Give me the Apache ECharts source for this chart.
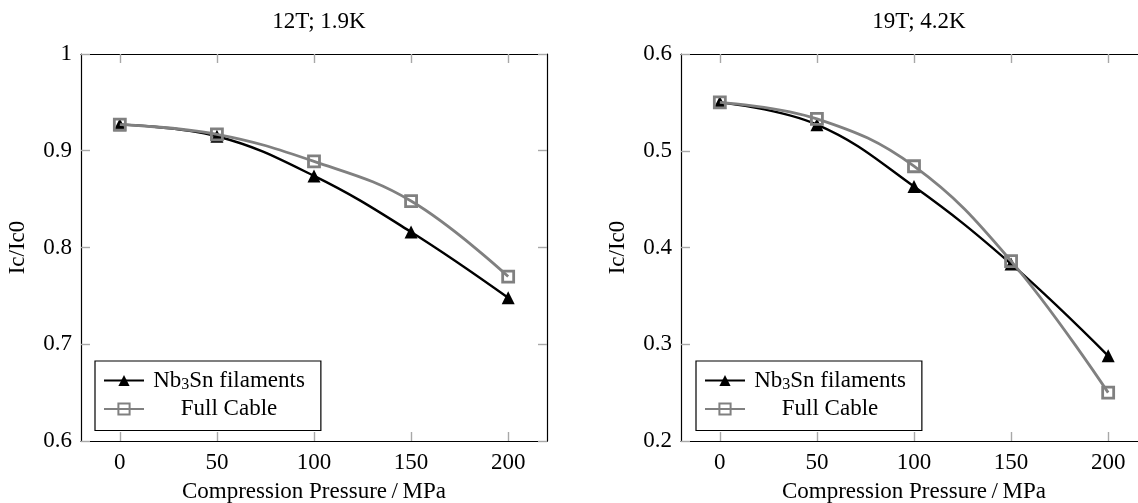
<!DOCTYPE html>
<html>
<head>
<meta charset="utf-8">
<script src="https://cdn.jsdelivr.net/npm/echarts@6/dist/echarts.min.js"></script>
<style>
  html, body { margin: 0; padding: 0; background: #fff; }
  #chart { width: 1138px; height: 503px; }
</style>
</head>
<body>
<div id="chart"></div>
<script>
// Compression pressure (MPa) at which Ic/Ic0 was measured
const pressure = [0, 50, 100, 150, 200];
const xTicks = [0, 50, 100, 150, 200];

// 12 T, 1.9 K
const filaments12T = [0.927, 0.915, 0.874, 0.816, 0.748];
const cable12T = [0.927, 0.917, 0.889, 0.848, 0.770];
const yTicks12T = [0.6, 0.7, 0.8, 0.9, 1];

// 19 T, 4.2 K
const filaments19T = [0.550, 0.527, 0.463, 0.383, 0.288];
const cable19T = [0.550, 0.533, 0.484, 0.386, 0.250];
const yTicks19T = [0.2, 0.3, 0.4, 0.5, 0.6];

const titles = ['12T; 1.9K', '19T; 4.2K'];
const nameFil = 'Nb3Sn filaments';
const nameCable = 'Full Cable';

const FONT = 'Liberation Serif';
const FS = 23;

const chart = echarts.init(document.getElementById('chart'), null, { renderer: 'canvas' });

const grids = [
  { left: 81, right: 591, top: 54, bottom: 62, outerBoundsMode: 'none', containLabel: false },
  { left: 681, right: -9, top: 54, bottom: 62, outerBoundsMode: 'none', containLabel: false }
];

const tickStyle = { show: true, inside: true, length: 9, lineStyle: { color: '#a8a8a8', width: 1.4 } };
const lineStyle = { show: true, onZero: false, lineStyle: { color: '#000', width: 1.2 } };

function zip(xs, ys) { return xs.map((x, i) => [x, ys[i]]); }

const xAxes = [], yAxes = [], series = [], titleList = [], legends = [];

[[filaments12T, cable12T, yTicks12T], [filaments19T, cable19T, yTicks19T]].forEach(([fil, cab, yt], g) => {
  const ymin = yt[0], ymax = yt[yt.length - 1];
  // bottom axis with labels
  xAxes.push({
    gridIndex: g, type: 'value', position: 'bottom', min: -20, max: 220,
    name: 'Compression Pressure\u2009/\u2009MPa', nameLocation: 'middle', nameGap: 39,
    nameTextStyle: { fontFamily: FONT, fontSize: FS, color: '#000' },
    axisLine: lineStyle,
    axisTick: Object.assign({ customValues: xTicks }, tickStyle),
    axisLabel: { customValues: xTicks, margin: 10, fontFamily: FONT, fontSize: FS, color: '#000' },
    splitLine: { show: false }
  });
  // mirrored top axis (ticks only)
  xAxes.push({
    gridIndex: g, type: 'value', position: 'top', min: -20, max: 220,
    axisLine: lineStyle,
    axisTick: Object.assign({ customValues: xTicks }, tickStyle),
    axisLabel: { show: false }, splitLine: { show: false }
  });
  yAxes.push({
    gridIndex: g, type: 'value', position: 'left', min: ymin, max: ymax,
    name: 'Ic/Ic0', nameLocation: 'middle', nameGap: 52, nameRotate: 90,
    nameTextStyle: { fontFamily: FONT, fontSize: FS, color: '#000' },
    axisLine: lineStyle,
    axisTick: Object.assign({ customValues: yt }, tickStyle),
    axisLabel: { customValues: yt, margin: 9, fontFamily: FONT, fontSize: FS, color: '#000' },
    splitLine: { show: false }
  });
  yAxes.push({
    gridIndex: g, type: 'value', position: 'right', min: ymin, max: ymax,
    axisLine: lineStyle,
    axisTick: Object.assign({ customValues: yt }, tickStyle),
    axisLabel: { show: false }, splitLine: { show: false }
  });

  series.push({
    name: nameFil, type: 'line', xAxisIndex: g * 2, yAxisIndex: g * 2,
    data: zip(pressure, fil), smooth: 0.4,
    symbol: 'triangle', symbolSize: 13,
    lineStyle: { color: '#000', width: 2.4 },
    itemStyle: { color: '#000' }, z: 3
  });
  series.push({
    name: nameCable, type: 'line', xAxisIndex: g * 2, yAxisIndex: g * 2,
    data: zip(pressure, cab), smooth: 0.4,
    symbol: 'rect', symbolSize: 11,
    lineStyle: { color: '#808080', width: 2.8 },
    itemStyle: { color: 'rgba(255,255,255,0)', borderColor: '#808080', borderWidth: 2.8 }, z: 4
  });

  titleList.push({
    text: titles[g], left: (g === 0 ? 81 + 233 : 681 + 233), top: 5, textAlign: 'center',
    textStyle: { fontFamily: FONT, fontSize: FS, fontWeight: 'normal', color: '#000' }
  });

  legends.push({
    data: [nameFil, nameCable],
    orient: 'vertical',
    left: g === 0 ? 95 : 696, top: 361,
    padding: [8, 16, 10, 8],
    itemWidth: 40, itemHeight: 14, itemGap: 5,
    backgroundColor: '#fff', borderColor: '#000', borderWidth: 1.2, borderRadius: 0,
    selectedMode: false,
    formatter: function (name) {
      return name === nameFil ? '{c|Nb}{s|3}{c|Sn filaments}' : '{c|Full Cable}';
    },
    textStyle: {
      width: 160, fontFamily: FONT, fontSize: FS, color: '#000',
      rich: {
        c: { fontFamily: FONT, fontSize: FS, lineHeight: 24, align: 'center', color: '#000' },
        s: { fontFamily: FONT, fontSize: 16, lineHeight: 14, verticalAlign: 'bottom', align: 'center', color: '#000' }
      }
    }
  });
});

chart.setOption({
  animation: false,
  backgroundColor: '#fff',
  title: titleList,
  grid: grids,
  legend: legends,
  xAxis: xAxes,
  yAxis: yAxes,
  series: series
});
</script>
</body>
</html>
